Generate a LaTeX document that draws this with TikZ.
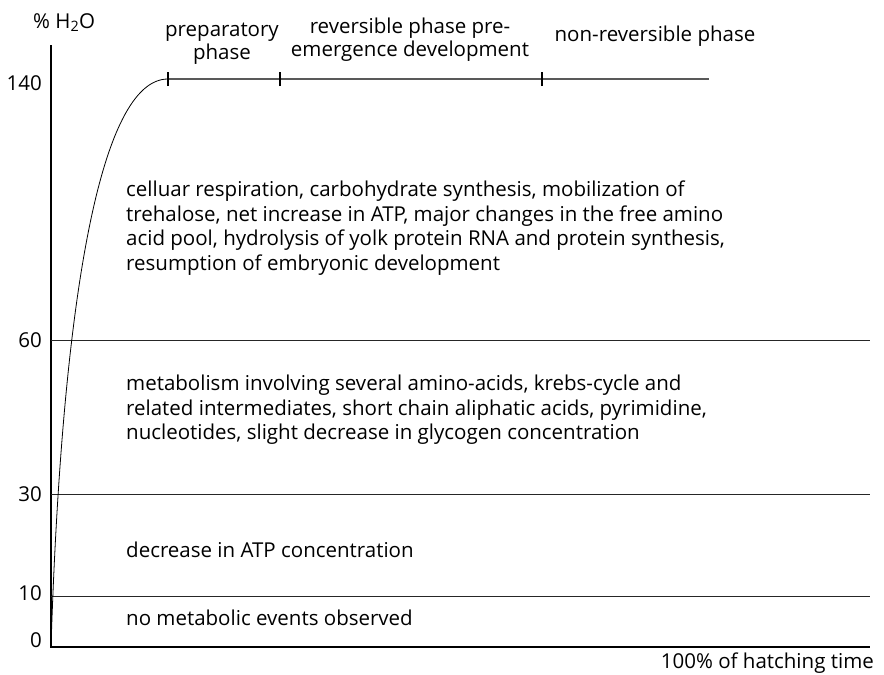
\documentclass[tikz,border=0pt]{standalone}
\usepackage{fontspec}
\setmainfont{Open Sans}
\begin{document}
\begin{tikzpicture}[x=1pt,y=-1pt,
  lbl/.style={font=\fontsize{20.5}{24.5}\selectfont, inner sep=0pt},
  phl/.style={font=\fontsize{20.5}{22.5}\selectfont, inner sep=0pt, align=center, anchor=north},
  blk/.style={lbl, anchor=north west, align=left},
  ax/.style={line width=1.1pt, black},
  band/.style={line width=0.9pt, black!85},
  tickm/.style={line width=1.4pt, black}]
\useasboundingbox (0,0) rectangle (884,675);
% axes
\coordinate (o) at (51,647);
\coordinate (ytop) at (51,45);
\coordinate (xend) at (870,647);
\draw[ax] (ytop) -- (o) -- (xend);
% band lines
\coordinate (l60a) at (51,340); \coordinate (l60b) at (870,340);
\coordinate (l30a) at (51,494); \coordinate (l30b) at (870,494);
\coordinate (l10a) at (51,596); \coordinate (l10b) at (870,596);
\draw[band] (l60a) -- (l60b);
\draw[band] (l30a) -- (l30b);
\draw[band] (l10a) -- (l10b);
% 140 plateau
\coordinate (p0) at (168,79); \coordinate (p1) at (280,79);
\coordinate (p2) at (542,79); \coordinate (p3) at (709,79);
\draw[line width=1.2pt, black!65] (p0) -- (p3);
\foreach \c in {p0,p1,p2}{\draw[tickm] ([yshift=-7]\c.center) -- ([yshift=7]\c.center);}
% curve
\draw[line width=0.8pt] (o) .. controls (62,300) and (100,79) .. (p0);
% y labels
\node[lbl, anchor=base east] (y140) at (42,90) {140};
\node[lbl, anchor=base east] (y60) at (42,347) {60};
\node[lbl, anchor=base east] (y30) at (42,501) {30};
\node[lbl, anchor=base east] (y10) at (42,600) {10};
\node[lbl, anchor=base east] (y0) at (42,647) {0};
\node[lbl, anchor=base west] (yt) at (33,28) {\% H\textsubscript{2}O};
% phase labels
\node[phl] (ph1) at (222,23) {preparatory\\phase};
\node[phl] (ph2) at (410,18) {reversible phase pre-\\emergence development};
\node[lbl, anchor=base] (ph3) at (655,41) {non-reversible phase};
% blocks
\node[blk] (b1) at (126,181) {celluar respiration, carbohydrate synthesis, mobilization of\\trehalose, net increase in ATP, major changes in the free amino\\acid pool, hydrolysis of yolk protein RNA and protein synthesis,\\resumption of embryonic development};
\node[blk] (b2) at (126,375) {metabolism involving several amino-acids, krebs-cycle and\\related intermediates, short chain aliphatic acids, pyrimidine,\\nucleotides, slight decrease in glycogen concentration};
\node[blk] (b3) at (126,542) {decrease in ATP concentration};
\node[blk] (b4) at (126,610) {no metabolic events observed};
\node[lbl, anchor=base east] (xl) at (874,668.5) {100\% of hatching time};
\end{tikzpicture}
\end{document}
